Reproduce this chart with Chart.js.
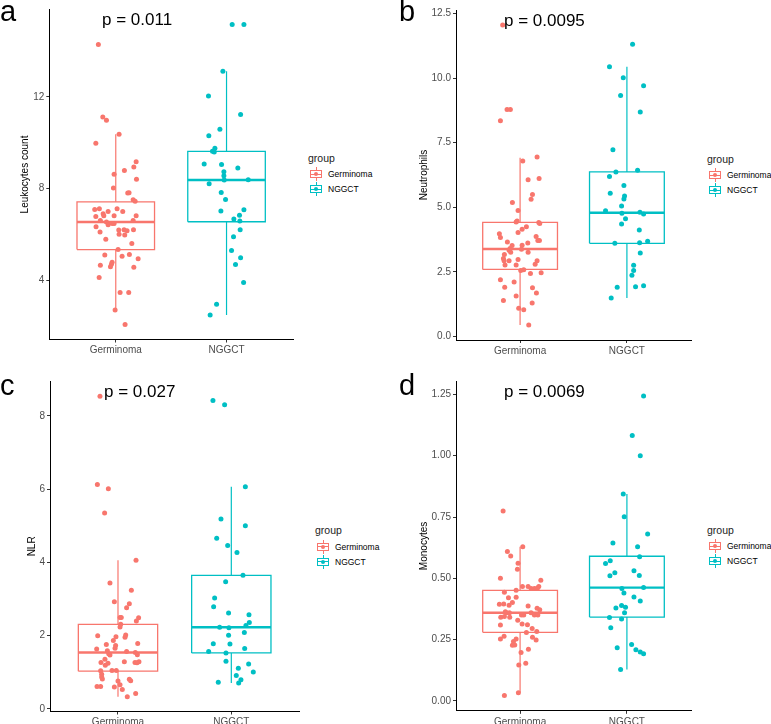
<!DOCTYPE html>
<html>
<head>
<meta charset="utf-8">
<script src="https://cdn.jsdelivr.net/npm/chart.js@4.4.1/dist/chart.umd.min.js"></script>
<style>
  html, body { margin: 0; padding: 0; background: #fff; }
  body { width: 771px; height: 724px; position: relative; overflow: hidden; font-family: "Liberation Sans", Arial, sans-serif; }
  canvas { position: absolute; }
  .tag { position: absolute; font-size: 29px; line-height: 1; color: #000; font-weight: 400; }
  .pval { position: absolute; font-size: 17px; line-height: 1; color: #000; white-space: nowrap; font-weight: 400; }
  .legtitle { position: absolute; font-size: 10.5px; line-height: 12px; color: #222; font-weight: 400; }
  .legtext { position: absolute; font-size: 8.5px; line-height: 10px; color: #000; white-space: nowrap; font-weight: 400; }
  .key { position: absolute; width: 12px; height: 14px; }
  .key div { position: absolute; }
  .key .wh { left: 5.5px; top: 0; width: 1px; height: 14px; }
  .key .bx { left: 0; top: 3px; width: 10px; height: 6px; border: 1px solid; background: #fff; }
  .key .md { left: 0; top: 6.5px; width: 12px; height: 1px; }
  .key .dt { left: 4px; top: 5px; width: 4px; height: 4px; border-radius: 50%; }
</style>
</head>
<body>
<script>
const groups = ["Germinoma", "NGGCT"];
const colors = ["#F8766D", "#00BFC4"];

// a: Leukocytes count
const leukoGerm = [14.28,11.13,10.98,10.37,9.98,9.18,8.95,8.79,8.63,8.41,8.03,7.81,7.83,7.52,7.45,7.10,7.13,7.01,7.13,7.01,6.91,6.79,6.82,6.82,6.82,6.62,6.62,6.55,6.43,6.49,6.49,6.34,6.20,6.21,6.17,6.21,6.11,6.02,5.98,5.80,5.61,5.35,5.11,5.06,5.13,4.95,4.80,4.71,4.60,4.67,4.58,4.13,3.48,3.48,2.72,2.08];
const leukoGermJit = [-0.157,-0.117,-0.084,0.03,-0.18,0.184,0.163,0.078,-0.015,0.187,-0.021,0.108,0.12,0.157,0.175,-0.19,-0.148,-0.069,0.012,0.063,-0.114,-0.18,-0.108,-0.015,0.184,-0.139,0.157,-0.084,-0.069,-0.033,-0.015,-0.178,0.027,0.075,0.102,0.16,-0.142,0.03,0.081,-0.09,0.145,0.021,-0.099,0.057,0.123,0.202,-0.033,-0.039,-0.048,-0.139,0.163,-0.15,0.039,0.117,-0.006,0.084];
const leukoNggct = [15.16,15.16,13.12,12.04,11.23,10.59,10.31,9.76,9.63,9.60,9.08,9.06,8.90,8.74,8.57,8.38,8.39,8.22,7.84,7.53,7.03,7.08,6.84,6.68,6.59,6.21,5.91,5.31,4.99,4.70,3.91,2.97,2.50];
const leukoNggctJit = [0.051,0.157,-0.033,-0.163,0.127,-0.06,-0.16,-0.105,-0.127,-0.111,-0.202,-0.045,0.102,-0.024,-0.024,-0.021,0.196,-0.157,-0.048,-0.009,-0.051,0.157,0.117,0.066,0.12,0.123,0.063,0.045,0.127,0.081,0.154,-0.09,-0.148];
// box stats: [lower whisker, q1, median, q3, upper whisker]
const leukoBoxGerm = [2.72, 5.35, 6.55, 7.43, 10.37];
const leukoBoxNggct = [2.50, 6.56, 8.38, 9.63, 13.12];
const leukoTicks = [4, 8, 12];
const leukoTickLabels = ["4", "8", "12"];

// b: Neutrophils
const neutroGerm = [12.05,8.78,8.78,8.35,6.95,6.79,6.11,6.07,5.50,5.31,5.19,4.88,4.47,4.43,4.41,4.37,4.25,4.15,4.03,3.98,3.83,3.87,3.72,3.72,3.66,3.62,3.52,3.53,3.41,3.38,3.34,3.26,3.26,3.18,3.02,2.93,2.93,2.98,2.77,2.93,2.80,2.77,2.56,2.59,2.44,2.47,2.20,2.11,1.89,1.91,1.57,1.69,1.40,1.30,1.10,1.04,0.45];
const neutroGermJit = [-0.163,-0.122,-0.091,-0.184,0.159,0.025,0.178,0.075,0.116,0.103,-0.072,-0.019,-0.028,-0.037,0.175,0.184,0.059,0.019,-0.019,-0.194,-0.184,0.15,0.166,0.181,-0.119,0.072,-0.075,0.019,-0.094,0.013,-0.103,-0.088,0.075,-0.147,-0.156,-0.15,-0.103,-0.019,-0.141,0.159,0.141,-0.037,0.006,0.034,0.097,0.197,-0.184,-0.056,0.116,-0.144,-0.037,0.153,-0.156,0.113,-0.013,0.034,0.081];
const neutroNggct = [11.31,10.44,10.01,9.70,9.32,8.69,7.23,6.37,6.43,6.19,5.84,5.54,5.44,5.32,5.05,4.87,4.77,4.81,4.74,4.56,4.36,4.12,3.61,3.63,3.69,3.23,2.76,2.56,2.37,1.91,1.93,1.97,1.49];
const neutroNggctJit = [0.053,-0.163,-0.034,0.156,-0.059,0.125,-0.131,-0.103,0.1,-0.163,-0.028,-0.156,-0.022,-0.028,-0.05,-0.2,-0.047,0.122,0.156,-0.013,-0.05,0.116,-0.113,0.119,0.194,0.125,0.063,0.063,0.047,-0.091,0.081,0.156,-0.147];
const neutroBoxGerm = [0.45, 2.60, 3.39, 4.42, 6.92];
const neutroBoxNggct = [1.49, 3.61, 4.79, 6.37, 10.44];
const neutroTicks = [0, 2.5, 5, 7.5, 10, 12.5];
const neutroTickLabels = ["0.0", "2.5", "5.0", "7.5", "10.0", "12.5"];

// c: NLR
const nlrGerm = [8.54,6.13,6.01,5.35,4.06,3.44,3.24,2.93,2.87,2.76,2.50,2.50,2.49,2.40,2.31,2.24,2.00,2.02,1.96,1.97,1.87,1.79,1.76,1.73,1.64,1.66,1.59,1.57,1.54,1.51,1.48,1.47,1.36,1.29,1.27,1.27,1.29,1.26,1.25,1.19,1.04,1.05,1.05,0.95,0.87,0.82,0.81,0.77,0.76,0.61,0.61,0.60,0.66,0.53,0.42,0.33];
const nlrGermJit = [-0.159,-0.182,-0.085,-0.118,0.159,-0.071,0.118,-0.032,0.1,0.076,0.018,0.029,0.182,0.162,0.024,0.018,-0.179,0.068,0.062,-0.018,-0.041,0.174,-0.103,-0.021,-0.188,-0.026,-0.094,0.076,0.153,-0.082,0.171,-0.071,-0.115,0.056,-0.15,0.15,0.185,0.168,-0.088,-0.112,-0.153,-0.053,-0.015,-0.144,-0.144,-0.138,0.1,0.112,0,-0.185,-0.153,-0.032,0.018,0.038,0.156,0.082];
const nlrNggct = [8.42,8.31,6.07,5.19,5.00,4.66,4.46,4.27,3.65,3.47,3.03,2.79,2.62,2.57,2.36,2.28,2.23,2.22,2.01,2.09,1.78,1.77,1.65,1.57,1.53,1.30,1.23,1.11,1.01,0.91,0.73,0.80,0.71];
const nlrNggctJit = [-0.162,-0.059,0.124,-0.091,0.124,-0.129,-0.032,0.05,0.103,-0.05,-0.147,-0.156,-0.024,0.156,0.159,0.129,-0.103,-0.021,-0.024,0.115,-0.159,-0.012,0.118,-0.2,-0.047,-0.047,0.153,0.062,0.194,0.044,-0.115,0.085,0.065];
const nlrBoxGerm = [0.33, 1.03, 1.54, 2.31, 4.06];
const nlrBoxNggct = [0.71, 1.53, 2.23, 3.65, 6.07];
const nlrTicks = [0, 2, 4, 6, 8];
const nlrTickLabels = ["0", "2", "4", "6", "8"];

// d: Monocytes
const monoGerm = [0.774,0.629,0.609,0.591,0.561,0.537,0.50,0.492,0.467,0.467,0.467,0.459,0.459,0.461,0.451,0.443,0.421,0.423,0.401,0.394,0.395,0.390,0.387,0.378,0.372,0.364,0.351,0.360,0.360,0.360,0.351,0.351,0.341,0.344,0.341,0.351,0.329,0.310,0.314,0.311,0.296,0.283,0.264,0.279,0.253,0.253,0.26,0.249,0.242,0.228,0.227,0.198,0.211,0.147,0.154,0.034,0.022];
const monoGermJit = [-0.159,0.025,-0.119,-0.088,-0.019,-0.025,-0.184,0.194,0.022,0.075,0.175,0.103,0.134,0.163,-0.037,-0.147,-0.109,-0.037,-0.072,-0.194,-0.153,-0.103,0.075,0.159,0.184,-0.138,0.034,-0.128,-0.1,0.103,0.134,0.166,-0.181,-0.147,-0.097,0.013,-0.022,-0.184,0.019,0.069,0.113,0.156,-0.15,0.059,-0.037,-0.184,0.116,0.15,-0.062,-0.05,-0.072,0.009,0.078,-0.012,0.053,-0.016,-0.147];
const monoNggct = [1.243,1.082,1.00,0.844,0.751,0.681,0.644,0.629,0.588,0.572,0.56,0.523,0.511,0.531,0.512,0.459,0.463,0.44,0.424,0.408,0.379,0.389,0.382,0.36,0.34,0.334,0.299,0.217,0.23,0.209,0.2,0.193,0.128];
const monoNggctJit = [0.156,0.05,0.125,-0.034,-0.025,0.194,-0.131,0.1,0.119,-0.156,-0.2,-0.113,-0.159,0.066,0.116,-0.047,0.156,-0.028,0.066,0.125,-0.103,-0.05,-0.013,-0.022,-0.163,-0.05,-0.151,-0.091,0.044,0.084,0.125,0.156,-0.059];
const monoBoxGerm = [0.034, 0.28, 0.36, 0.451, 0.629];
const monoBoxNggct = [0.128, 0.342, 0.462, 0.59, 0.844];
const monoTicks = [0, 0.25, 0.5, 0.75, 1, 1.25];
const monoTickLabels = ["0.00", "0.25", "0.50", "0.75", "1.00", "1.25"];

const boxHalf = 0.35;
const font = "Liberation Sans";

function lineSet(points, color, width) {
  return { data: points, showLine: true, borderColor: color, borderWidth: width, pointRadius: 0, fill: false, tension: 0, order: 2 };
}

function boxSets(pos, st, color) {
  const [lo, q1, med, q3, hi] = st;
  const l = pos - boxHalf, r = pos + boxHalf;
  return [
    lineSet([{x: pos, y: q3}, {x: pos, y: hi}], color, 1.2),
    lineSet([{x: pos, y: q1}, {x: pos, y: lo}], color, 1.2),
    lineSet([{x: l, y: q1}, {x: r, y: q1}, {x: r, y: q3}, {x: l, y: q3}, {x: l, y: q1}], color, 1.3),
    lineSet([{x: l, y: med}, {x: r, y: med}], color, 2.4)
  ];
}

function pointSet(pos, vals, jit, color) {
  return {
    data: vals.map((v, i) => ({x: pos + jit[i], y: v})),
    backgroundColor: color, borderWidth: 0, pointRadius: 2.5, showLine: false, order: 1
  };
}

function makePanel(p) {
  const cv = document.createElement("canvas");
  cv.width = p.w; cv.height = p.h;
  cv.style.left = p.left + "px"; cv.style.top = p.top + "px";
  cv.style.width = p.w + "px"; cv.style.height = p.h + "px";
  document.body.appendChild(cv);

  const datasets = [
    pointSet(1, p.germ, p.germJit, colors[0]),
    pointSet(2, p.nggct, p.nggctJit, colors[1]),
    ...boxSets(1, p.boxGerm, colors[0]),
    ...boxSets(2, p.boxNggct, colors[1])
  ];

  new Chart(cv, {
    type: "scatter",
    data: { datasets: datasets },
    options: {
      responsive: false,
      animation: false,
      events: [],
      layout: { padding: { left: 0, top: p.padTop, right: p.padRight, bottom: 0 } },
      plugins: { legend: { display: false }, tooltip: { enabled: false } },
      scales: {
        x: {
          type: "linear", min: 0.4, max: 2.6,
          afterBuildTicks: (s) => { s.ticks = [{value: 1}, {value: 2}]; },
          afterFit: (s) => { s.height = p.xH; },
          ticks: {
            callback: (v, i) => groups[i], autoSkip: false, maxRotation: 0,
            color: "#4D4D4D", padding: 2, font: { family: font, size: 10 }
          },
          grid: { display: true, drawOnChartArea: false, drawTicks: true, tickLength: 3, color: "#333333" },
          border: { display: true, color: "#000", width: 1 }
        },
        y: {
          type: "linear", min: p.yMin, max: p.yMax,
          afterBuildTicks: (s) => { s.ticks = p.ticks.map(v => ({value: v})); },
          afterFit: (s) => { s.width = p.yW; },
          ticks: {
            callback: (v, i) => p.tickLabels[i], autoSkip: false,
            color: "#4D4D4D", padding: 2, font: { family: font, size: 10 }
          },
          grid: { display: true, drawOnChartArea: false, drawTicks: true, tickLength: 3, color: "#333333" },
          border: { display: true, color: "#000", width: 1 },
          title: { display: true, text: p.yTitle, color: "#000", font: { family: font, size: 10 }, padding: { top: p.titlePad, bottom: 0 } }
        }
      }
    }
  });

  // panel letter and p value
  const tag = document.createElement("div");
  tag.className = "tag"; tag.textContent = p.letter;
  tag.style.left = p.tagX + "px"; tag.style.top = p.tagY + "px";
  document.body.appendChild(tag);
  const pv = document.createElement("div");
  pv.className = "pval"; pv.textContent = p.pText;
  pv.style.left = p.pX + "px"; pv.style.top = p.pY + "px";
  document.body.appendChild(pv);

  // legend
  const lt = document.createElement("div");
  lt.className = "legtitle"; lt.textContent = "group";
  lt.style.left = p.legX + "px"; lt.style.top = (p.legY - 6) + "px";
  document.body.appendChild(lt);
  groups.forEach((g, i) => {
    const cy = p.legY + 16.5 + i * 15;
    const key = document.createElement("div");
    key.className = "key";
    key.style.left = (p.legX + 2) + "px"; key.style.top = (cy - 7) + "px";
    key.innerHTML = '<div class="wh"></div><div class="bx"></div><div class="md"></div><div class="dt"></div>';
    key.querySelector(".wh").style.background = colors[i];
    key.querySelector(".bx").style.borderColor = colors[i];
    key.querySelector(".md").style.background = colors[i];
    key.querySelector(".dt").style.background = colors[i];
    document.body.appendChild(key);
    const tx = document.createElement("div");
    tx.className = "legtext"; tx.textContent = g;
    tx.style.left = (p.legX + 20) + "px"; tx.style.top = (cy - 5) + "px";
    document.body.appendChild(tx);
  });
}

makePanel({
  left: 0, top: 0, w: 300, h: 362, padTop: 9.5, padRight: 7, yW: 49.3, xH: 22.5, titlePad: 19,
  yMin: 1.43, yMax: 15.81, ticks: leukoTicks, tickLabels: leukoTickLabels, yTitle: "Leukocytes count",
  germ: leukoGerm, germJit: leukoGermJit, nggct: leukoNggct, nggctJit: leukoNggctJit,
  boxGerm: leukoBoxGerm, boxNggct: leukoBoxNggct,
  letter: "a", tagX: 0, tagY: -3, pText: "p = 0.011", pX: 102, pY: 10.6, legX: 308, legY: 157.5
});
makePanel({
  left: 385, top: 0, w: 315, h: 362, padTop: 10, padRight: 9, yW: 71, xH: 22, titlePad: 33,
  yMin: -0.13, yMax: 12.63, ticks: neutroTicks, tickLabels: neutroTickLabels, yTitle: "Neutrophils",
  germ: neutroGerm, germJit: neutroGermJit, nggct: neutroNggct, nggctJit: neutroNggctJit,
  boxGerm: neutroBoxGerm, boxNggct: neutroBoxNggct,
  letter: "b", tagX: 399, tagY: -3, pText: "p = 0.0095", pX: 504, pY: 11.6, legX: 707, legY: 158.5
});
makePanel({
  left: 0, top: 362, w: 306, h: 362, padTop: 19.2, padRight: 6.7, yW: 50, xH: 12.5, titlePad: 26,
  yMin: -0.07, yMax: 8.95, ticks: nlrTicks, tickLabels: nlrTickLabels, yTitle: "NLR",
  germ: nlrGerm, germJit: nlrGermJit, nggct: nlrNggct, nggctJit: nlrNggctJit,
  boxGerm: nlrBoxGerm, boxNggct: nlrBoxNggct,
  letter: "c", tagX: 0, tagY: 371, pText: "p = 0.027", pX: 104, pY: 383, legX: 315, legY: 530
});
makePanel({
  left: 385, top: 362, w: 315, h: 362, padTop: 19.1, padRight: 9, yW: 71, xH: 13.2, titlePad: 33,
  yMin: -0.04, yMax: 1.304, ticks: monoTicks, tickLabels: monoTickLabels, yTitle: "Monocytes",
  germ: monoGerm, germJit: monoGermJit, nggct: monoNggct, nggctJit: monoNggctJit,
  boxGerm: monoBoxGerm, boxNggct: monoBoxNggct,
  letter: "d", tagX: 399, tagY: 371, pText: "p = 0.0069", pX: 504, pY: 383, legX: 707, legY: 529.5
});
</script>
</body>
</html>
